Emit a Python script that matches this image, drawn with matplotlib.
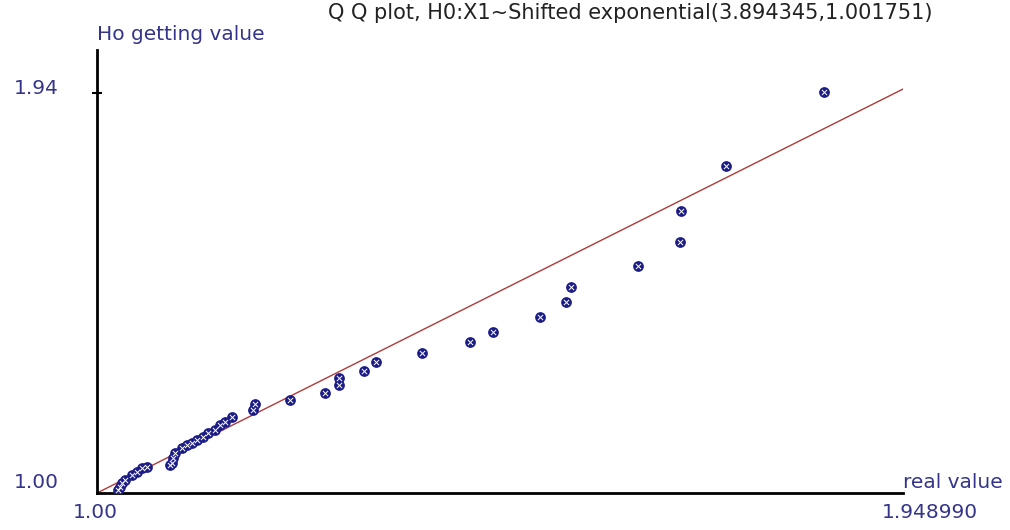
import matplotlib
matplotlib.use("Agg")
import matplotlib.pyplot as plt
import numpy as np

# sorted real values (x) and the matching quantiles under H0 (y)
real_value = [1.025, 1.027, 1.029, 1.033, 1.041, 1.047, 1.053, 1.059,
              1.086, 1.088, 1.090, 1.092, 1.100, 1.106, 1.112, 1.118,
              1.125, 1.131, 1.139, 1.145, 1.151, 1.159, 1.184, 1.186,
              1.227, 1.269, 1.285, 1.285, 1.314, 1.329, 1.383, 1.439,
              1.466, 1.522, 1.552, 1.558, 1.637, 1.687, 1.688, 1.741, 1.856]
h0_value = [1.007, 1.014, 1.024, 1.031, 1.042, 1.049, 1.059, 1.061,
            1.066, 1.071, 1.082, 1.094, 1.106, 1.113, 1.118, 1.125,
            1.132, 1.141, 1.148, 1.160, 1.167, 1.179, 1.195, 1.209,
            1.219, 1.235, 1.254, 1.270, 1.287, 1.308, 1.329, 1.355,
            1.378, 1.414, 1.449, 1.484, 1.533, 1.590, 1.663, 1.768, 1.942]

x_min, x_max = 1.00, 1.948990
y_min, y_top = 1.00, 1.94
title = "Q Q plot, H0:X1~Shifted exponential(3.894345,1.001751)"

navy = "#34348c"
W, H = 1010, 530

fig = plt.figure(figsize=(W / 100, H / 100), dpi=100)
ax = fig.add_axes([97 / W, 37 / H, 806 / W, 443 / H])
ax.set_xlim(x_min, x_min + 806 / 849)
ax.set_ylim(y_min, y_min + 443 / 425.5)

for s in ["top", "right"]:
    ax.spines[s].set_visible(False)
for s in ["left", "bottom"]:
    ax.spines[s].set_linewidth(2.0)
    ax.spines[s].set_color("black")

ax.set_xticks([])
ax.set_yticks([y_top])
ax.set_yticklabels([])
ax.tick_params(axis="y", direction="inout", length=7, width=1.5, color="black")

# reference line y = x
ax.plot([x_min, x_max], [x_min, x_max], color="#b03a3a", lw=1.0, zorder=2)

# points: filled circle with white cross
ax.scatter(real_value, h0_value, s=60, color="#1c1c88", zorder=3, linewidths=0)
ax.scatter(real_value, h0_value, s=14, marker="x", color="white", linewidths=0.7, zorder=4)

font = "DejaVu Sans"
fs = 14.5
fig.text(59 / W, 1 - 88 / H, "%.2f" % y_top, ha="right", va="center", color=navy, fontsize=fs, family=font)
fig.text(59 / W, 1 - 483 / H, "%.2f" % y_min, ha="right", va="center", color=navy, fontsize=fs, family=font)
fig.text(95 / W, 1 - 513 / H, "%.2f" % x_min, ha="center", va="center", color=navy, fontsize=fs, family=font)
fig.text(930 / W, 1 - 513 / H, "%.6f" % x_max, ha="center", va="center", color=navy, fontsize=fs, family=font)
fig.text(903 / W, 1 - 483 / H, "real value", ha="left", va="center", color=navy, fontsize=fs, family=font)
fig.text(97 / W, 1 - 35 / H, "Ho getting value", ha="left", va="center", color=navy, fontsize=fs, family=font)
fig.text(630 / W, 1 - 13 / H, title, ha="center", va="center", color="#222222", fontsize=fs + 0.5, family=font)

fig.savefig("out.png", dpi=100)
